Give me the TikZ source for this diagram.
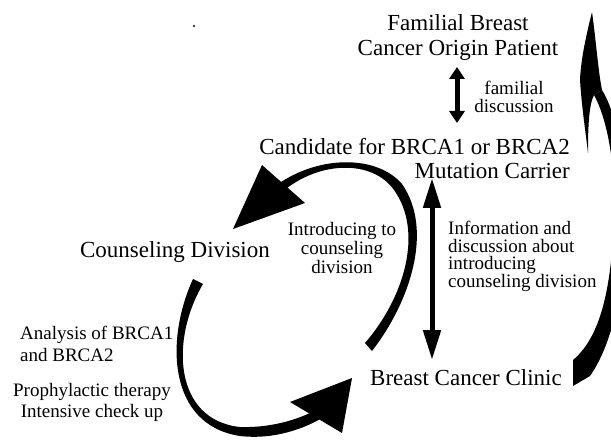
\documentclass[tikz,border=0pt]{standalone}
\usepackage{fontspec}
\setmainfont{Liberation Serif}
\usetikzlibrary{arrows.meta}
\begin{document}
\begin{tikzpicture}[x=1pt,y=-1pt,
  big/.style={font=\fontsize{23}{24}\selectfont, inner sep=0pt},
  small/.style={font=\fontsize{19}{19}\selectfont, inner sep=0pt},
  smalldbl/.style={line width=5pt, {Triangle[length=12pt,width=15pt]}-{Triangle[length=12pt,width=15pt]}},
  bigdbl/.style={line width=5pt, {Triangle[length=30pt,width=17pt]}-{Triangle[length=30pt,width=17pt]}},
  ink/.style={fill=black}]
\useasboundingbox (0,0) rectangle (611,441);
\clip (0,0) rectangle (611,441);

% texts
\node[big, align=center, font=\fontsize{23}{25}\selectfont] (fam) at (458,38) {Familial Breast\\Cancer Origin Patient};
\node[big, align=right, anchor=east, font=\fontsize{23}{23.5}\selectfont] (cand) at (570,158.5) {Candidate for BRCA1 or BRCA2\\Mutation Carrier};
\node[small, align=center, font=\fontsize{19}{18}\selectfont] (famdisc) at (514,97) {familial\\discussion};
\node[small, align=left, anchor=west, font=\fontsize{19}{17.7}\selectfont] (info) at (448,256.5) {Information and\\discussion about\\introducing\\counseling division};
\node[small, align=center, font=\fontsize{19}{19}\selectfont] (intro) at (342,248) {Introducing to\\counseling\\division};
\node[big] (couns) at (175,252) {Counseling Division};
\node[big] (clinic) at (466,378) {Breast Cancer Clinic};
\node[small, align=left, anchor=west, font=\fontsize{19}{22}\selectfont] (anal) at (20,344) {Analysis of BRCA1\\and BRCA2};
\node[small, align=center, font=\fontsize{19}{21}\selectfont] (proph) at (92,402.5) {Prophylactic therapy\\Intensive check up};

% stray dot
\fill (194,26) circle (1.2);

% straight double arrows
\coordinate (s1) at (457,67);
\coordinate (s2) at (457,123);
\draw[smalldbl] (s1) -- (s2);
\coordinate (b1) at (432,178);
\coordinate (b2) at (432,360);
\draw[bigdbl] (b1) -- (b2);

% arc 1: clinic -> counseling division
\fill[ink] (372,351) .. controls (410,302) and (434,230) .. (402,184)
  .. controls (377,155) and (320,155) .. (278,184)
  -- (282,192) .. controls (320,160) and (373,160) .. (394,190)
  .. controls (424,232) and (404,298) .. (365,343) -- cycle;
\coordinate (h1a) at (262,165);
\coordinate (h1b) at (305,203);
\coordinate (h1t) at (233,229);
\fill[ink] (h1a) -- (h1b) -- (h1t) -- cycle;

% arc 2: counseling division -> clinic
\fill[ink] (193,279) .. controls (165,340) and (168,425) .. (240,436)
  .. controls (275,440) and (305,428) .. (322,418)
  -- (318,409) .. controls (298,420) and (270,428) .. (240,427)
  .. controls (174,420) and (170,340) .. (203,284) -- cycle;
\coordinate (h2a) at (290,402);
\coordinate (h2t) at (352,378);
\coordinate (h2b) at (342,433);
\fill[ink] (h2a) -- (h2t) -- (h2b) -- cycle;

% right arc: clinic -> familial patient
\fill[ink] (573,386) -- (573,360)
  .. controls (603,335) and (612,280) .. (614,215)
  .. controls (616,170) and (608,120) .. (594,95)
  -- (602,90)
  .. controls (615,110) and (626,160) .. (626,215)
  .. controls (625,280) and (615,340) .. (590,376) -- cycle;
\fill[ink] (592,12) .. controls (585,40) and (581,60) .. (580,80)
  .. controls (582,110) and (586,135) .. (588,153)
  .. controls (588,125) and (589,105) .. (594,95)
  -- (602,90) .. controls (598,70) and (596,40) .. (592,12) -- cycle;
\end{tikzpicture}
\end{document}
